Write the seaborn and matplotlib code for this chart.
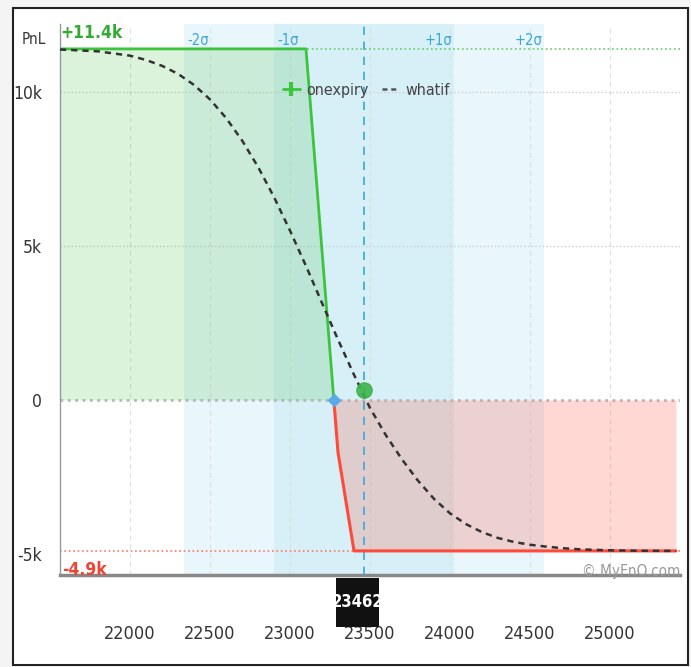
import numpy as np
import pandas as pd
import matplotlib
matplotlib.use("Agg")
import matplotlib.pyplot as plt
import matplotlib.transforms as mtransforms
from matplotlib.patches import Rectangle
from matplotlib.lines import Line2D
import seaborn as sns

# values
expiry_x = [21562, 23100, 23300, 23400, 25412]
expiry_y = [11400, 11400, -1700, -4900, -4900]
whatif_x = [21562, 21800, 22000, 22100, 22200, 22300, 22400, 22500, 22600, 22700,
            22800, 22900, 23000, 23100, 23200, 23300, 23400, 23500, 23600, 23700,
            23800, 23900, 24000, 24100, 24200, 24300, 24400, 24500, 24600, 24700,
            24800, 24900, 25000, 25200, 25412]
whatif_y = [11380, 11320, 11180, 11040, 10850, 10590, 10230, 9760, 9160, 8430,
            7570, 6590, 5500, 4350, 3150, 1960, 820, -260, -1150, -1930,
            -2620, -3210, -3680, -4030, -4290, -4480, -4610, -4700, -4760, -4810,
            -4845, -4865, -4880, -4895, -4900]
spot = 23462
spot_pnl = 320
breakeven = 23274
sigma = 562
max_profit = 11400
max_loss = -4900
x_ticks = [22000, 22500, 23000, 23500, 24000, 24500, 25000]
y_ticks = [-5000, 0, 5000, 10000]
y_labels = ['-5k', '0', '5k', '10k']

green = '#3cc43c'
red = '#ff4a3a'
blue = '#3aa8d8'

sns.set_style('white')
plt.rcParams['font.family'] = ['DejaVu Sans']
plt.rcParams['font.stretch'] = 'condensed'

fig = plt.figure(figsize=(6.91, 6.67), dpi=100, facecolor='#f4f4f4')
fig.patches.append(Rectangle((13 / 691, 2 / 667), 675 / 691, 657 / 667,
                             transform=fig.transFigure, facecolor='white',
                             edgecolor='#222222', lw=1.5, zorder=-10))
ax = fig.add_axes([60 / 691, 1 - 575 / 667, 620 / 691, 551 / 667])
ax.patch.set_alpha(0)

ax.set_xlim(21562.5, 25437.5)
ax.set_ylim(-5682, 12208)

# sigma bands
ax.axvspan(spot - 2 * sigma, spot + 2 * sigma, color='#e9f6fb', zorder=0, lw=0)
ax.axvspan(spot - sigma, spot + sigma, color='#d7eff7', zorder=0, lw=0)
for k, lab in zip([-2, -1, 1, 2], ['-2σ', '-1σ', '+1σ', '+2σ']):
    ax.text(spot + k * sigma + (20 if k < 0 else -10), max_profit + 20, lab,
            color=blue, fontsize=10.5,
            ha='left' if k < 0 else 'right', va='bottom', zorder=6)

# grid
for xt in x_ticks:
    ax.axvline(xt, color='#dddddd', lw=0.8, ls=(0, (4, 4)), zorder=1)
for yt in [5000, 10000]:
    ax.axhline(yt, color='#cccccc', lw=1, ls=':', zorder=1)
ax.axhline(0, color='#bbbbbb', lw=2, ls=':', zorder=1)
ax.axhline(max_profit, color='#66cc66', lw=1.2, ls=':', zorder=1)
ax.axhline(max_loss, color='#ff7766', lw=1.2, ls=':', zorder=1)

# fills
ex = np.array(expiry_x)
ey = np.array(expiry_y)
ax.fill_between(ex, ey, 0, where=ey >= 0, interpolate=True,
                color=(60 / 255, 190 / 255, 60 / 255), alpha=0.18, lw=0, zorder=2)
ax.fill_between(ex, ey, 0, where=ey <= 0, interpolate=True,
                color=(1, 80 / 255, 60 / 255), alpha=0.22, lw=0, zorder=2)

# on-expiry line split at breakeven
pos = pd.DataFrame({'x': [x for x, y in zip(expiry_x, expiry_y) if y > 0] + [breakeven],
                    'y': [y for y in expiry_y if y > 0] + [0]})
neg = pd.DataFrame({'x': [breakeven] + [x for x, y in zip(expiry_x, expiry_y) if y < 0],
                    'y': [0] + [y for y in expiry_y if y < 0]})
sns.lineplot(data=pos, x='x', y='y', color=green, lw=2, sort=False, ax=ax, zorder=4)
sns.lineplot(data=neg, x='x', y='y', color=red, lw=2.2, sort=False, ax=ax, zorder=4)

wf = pd.DataFrame({'x': whatif_x, 'y': whatif_y})
sns.lineplot(data=wf, x='x', y='y', color='#333333', lw=1.8, ax=ax, zorder=5,
             linestyle=(0, (2.5, 2)))

ax.axvline(spot, color=blue, lw=1.2, ls=(0, (5, 4)), zorder=3)
ax.plot([spot], [spot_pnl], 'o', ms=11, color='#3cb44b', alpha=0.9, zorder=6)
ax.plot([breakeven], [0], 'D', ms=6, color='#5aaae6', zorder=6)

# axes styling
ax.set_xticks(x_ticks)
ax.set_xticklabels([str(v) for v in x_ticks])
ax.set_yticks(y_ticks)
ax.set_yticklabels(y_labels)
ax.tick_params(axis='x', length=0, pad=36, labelsize=13, labelcolor='#333333')
ax.tick_params(axis='y', length=0, pad=13, labelsize=12.5, labelcolor='#333333')
ax.set_xlabel('')
ax.set_ylabel('')
for s in ['top', 'right']:
    ax.spines[s].set_visible(False)
ax.spines['left'].set_color('#999999')
ax.spines['left'].set_linewidth(1)
ax.spines['bottom'].set_color('#888888')
ax.spines['bottom'].set_linewidth(2.5)

ax.text(-0.022, 0.971, 'PnL', transform=ax.transAxes, ha='right', va='center',
        fontsize=11, color='#333333')
ax.text(0.0, 1.0, '+11.4k', transform=ax.transAxes, ha='left', va='top',
        fontsize=12.5, fontweight='bold', color='#33aa33', zorder=7)
ax.text(0.004, -0.008, '-4.9k', transform=ax.transAxes, ha='left', va='bottom',
        fontsize=12.5, fontweight='bold', color='#ee4433', zorder=7)
ax.text(1.0, -0.008, '© MyFnO.com', transform=ax.transAxes, ha='right', va='bottom',
        fontsize=11, color='#999999', zorder=7)

# spot label box
tr = mtransforms.blended_transform_factory(ax.transData, ax.transAxes)
ax.add_patch(Rectangle((spot - 175, -0.094), 270, 0.088, transform=tr,
                       facecolor='#111111', edgecolor='none', clip_on=False, zorder=8))
ax.text(spot - 40, -0.049, str(spot), transform=tr, ha='center', va='center',
        fontsize=12, fontweight='bold', color='white', zorder=9, clip_on=False)

handles = [Line2D([0], [0], color=green, lw=2, marker='|', ms=10, mew=3),
           Line2D([0], [0], color='#555555', lw=1.8, ls=(0, (2, 1.5)))]
ax.legend(handles, ['onexpiry', 'whatif'], loc='center', ncol=2,
          bbox_to_anchor=(0.494, 0.88), frameon=False, fontsize=11.5,
          handlelength=1.1, handletextpad=0.4, columnspacing=0.8,
          labelcolor='#444444')

fig.savefig('out.png', dpi=100, facecolor=fig.get_facecolor())
